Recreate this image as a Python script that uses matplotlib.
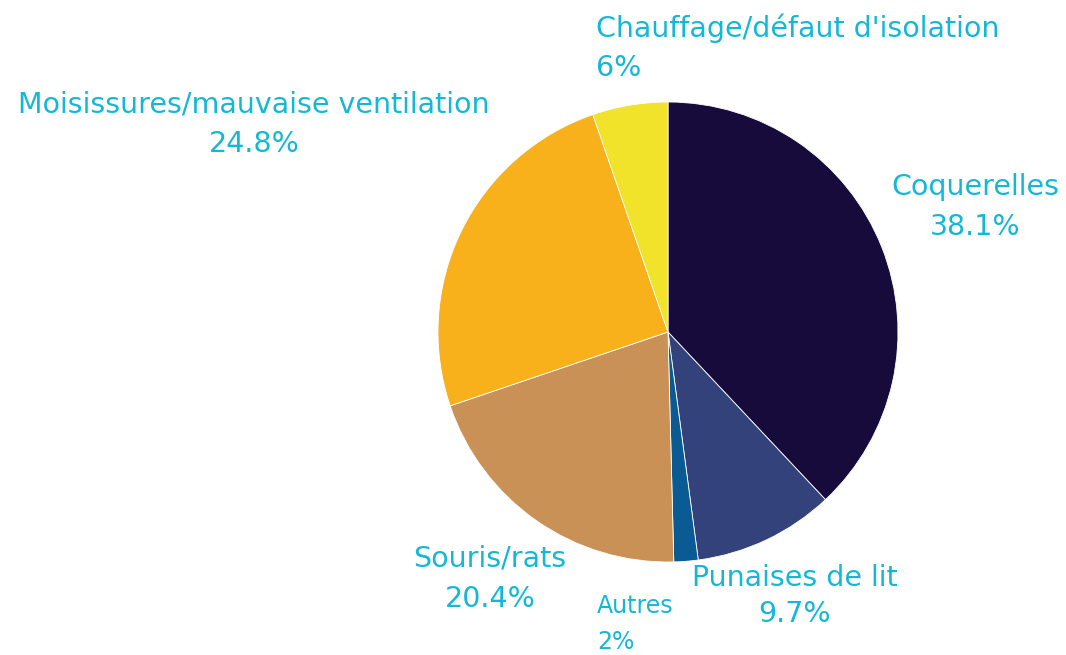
import matplotlib.pyplot as plt

labels = ['Coquerelles', 'Punaises de lit', 'Autres', 'Souris/rats',
          'Moisissures/mauvaise ventilation', "Chauffage/défaut d'isolation"]
# wedge shares as drawn in the picture
shares = [38.0, 9.9, 1.7, 20.2, 24.9, 5.3]
value_text = ['38.1%', '9.7%', '2%', '20.4%', '24.8%', '6%']
colors = ['#170b3b', '#33427a', '#0a5a94', '#c99156', '#f8b01b', '#f1e22a']

TEXT_COLOR = '#14b8d6'
W, H = 1066, 655

# label anchor (pixel x, pixel y from top), alignment, font size, line spacing
label_pos = [
    (975, 207, 'center', 20.5, 1.52),
    (795, 596, 'center', 20.5, 1.35),
    (597, 624, 'left', 17, 1.65),
    (490, 579, 'center', 20.5, 1.55),
    (254, 124, 'center', 20.5, 1.52),
    (596, 48, 'left', 20.5, 1.52),
]

plt.rcParams['font.family'] = ['DejaVu Sans']

fig = plt.figure(figsize=(W / 100, H / 100), dpi=100)
ax = fig.add_axes([0, 0, 1, 1])

ax.pie(shares, colors=colors, startangle=90, counterclock=False,
       center=(668, H - 332), radius=230,
       wedgeprops=dict(edgecolor='white', linewidth=0.6), frame=True)
ax.set_xlim(0, W)
ax.set_ylim(0, H)
ax.set_aspect('equal')
ax.axis('off')

for lab, val, (x, y, ha, fs, ls) in zip(labels, value_text, label_pos):
    ax.text(x, H - y, f'{lab}\n{val}', ha=ha, va='center', multialignment=ha,
            fontsize=fs, color=TEXT_COLOR, linespacing=ls)

fig.savefig('out.png', dpi=100)
